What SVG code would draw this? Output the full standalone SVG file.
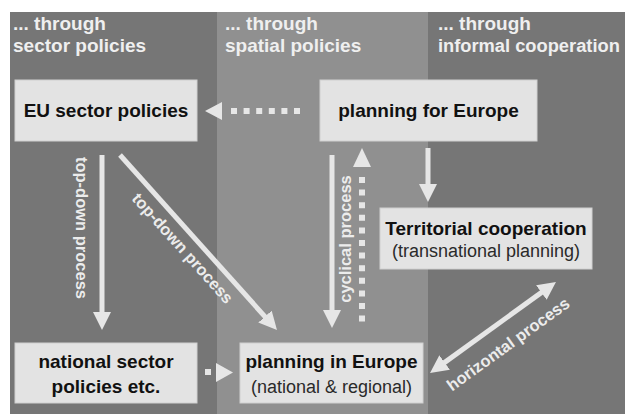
<svg xmlns="http://www.w3.org/2000/svg" width="625" height="414" viewBox="0 0 625 414">
<style>
.hdr{font-family:"Liberation Sans",Arial,sans-serif;font-weight:bold;font-size:19px;fill:#efefef}
.hdr2{font-family:"Liberation Sans",Arial,sans-serif;font-weight:bold;font-size:18.3px;fill:#efefef}
.box{fill:#e3e3e3;stroke:#d0d0d0;stroke-width:1}
.lbl{font-family:"Liberation Sans",Arial,sans-serif;font-weight:bold;font-size:19px;fill:#111;text-anchor:middle}
.sub{font-family:"Liberation Sans",Arial,sans-serif;font-size:18px;fill:#2a2a2a;text-anchor:middle}
.arr{stroke:#e6e6e6;stroke-width:5;fill:none}
.dot{stroke:#e6e6e6;stroke-width:6;fill:none;stroke-dasharray:6 6.6}
.head{fill:#e6e6e6}
.cl{font-family:"Liberation Sans",Arial,sans-serif;font-weight:bold;font-size:16.5px;fill:#ececec;text-anchor:middle}
</style>
<defs>
<marker id="ah" markerUnits="userSpaceOnUse" markerWidth="18" markerHeight="18" refX="2" refY="9" orient="auto-start-reverse">
<path d="M0,0 L18,9 L0,18 z" fill="#e6e6e6"/>
</marker>
</defs>
<rect x="0" y="0" width="625" height="414" fill="#ffffff"/>
<rect x="10" y="12" width="615" height="402" fill="#767676"/>
<rect x="217" y="12" width="211" height="402" fill="#909090"/>
<g id="headers">
<text class="hdr" x="13" y="30">... through</text>
<text class="hdr" x="13" y="52">sector policies</text>
<text class="hdr" x="225" y="30">... through</text>
<text class="hdr" x="225" y="52">spatial policies</text>
<text class="hdr" x="438" y="30">... through</text>
<text class="hdr2" x="438" y="52">informal cooperation</text>
</g>
<g id="connectors">
<line class="dot" x1="231" y1="111" x2="302" y2="111"/>
<polygon class="head" points="205,111 222,102 222,120"/>
<line class="arr" x1="102" y1="155" x2="102" y2="314" marker-end="url(#ah)"/>
<line class="arr" x1="120" y1="155" x2="266.3" y2="318.1" marker-end="url(#ah)"/>
<line class="arr" x1="332" y1="155" x2="332" y2="312" marker-end="url(#ah)"/>
<line class="dot" x1="362" y1="177" x2="362" y2="323"/>
<polygon class="head" points="362,148 353,167 371,167"/>
<line class="arr" x1="428" y1="148" x2="428" y2="186" marker-end="url(#ah)"/>
<line class="arr" x1="443" y1="363.6" x2="543" y2="291.4" marker-start="url(#ah)" marker-end="url(#ah)"/>
<rect class="head" x="205" y="369" width="6" height="6"/>
<polygon class="head" points="233,372.5 216,363 216,382"/>
<text class="cl" transform="translate(82,228) rotate(90)" y="6">top-down process</text>
<text class="cl" transform="translate(183,248) rotate(48.1)" y="6">top-down process</text>
<text class="cl" transform="translate(345,239) rotate(-90)" y="6">cyclical process</text>
<text class="cl" transform="translate(508,344) rotate(-35.8)" y="6">horizontal process</text>
</g>
<g id="eu-sector-policies">
<rect class="box" x="15" y="80" width="182" height="61"/>
<text class="lbl" x="106" y="117">EU sector policies</text>
</g>
<g id="planning-for-europe">
<rect class="box" x="320" y="80" width="217" height="61"/>
<text class="lbl" x="428.5" y="117">planning for Europe</text>
</g>
<g id="territorial-cooperation">
<rect class="box" x="380" y="208" width="212" height="61"/>
<text class="lbl" x="486" y="235">Territorial cooperation</text>
<text class="sub" x="486" y="257">(transnational planning)</text>
</g>
<g id="national-sector-policies">
<rect class="box" x="15" y="343" width="182" height="60"/>
<text class="lbl" x="106" y="368">national sector</text>
<text class="lbl" x="106" y="393">policies etc.</text>
</g>
<g id="planning-in-europe">
<rect class="box" x="240" y="343" width="183" height="60"/>
<text class="lbl" x="331.5" y="368">planning in Europe</text>
<text class="sub" x="331.5" y="393">(national &amp; regional)</text>
</g>
</svg>
